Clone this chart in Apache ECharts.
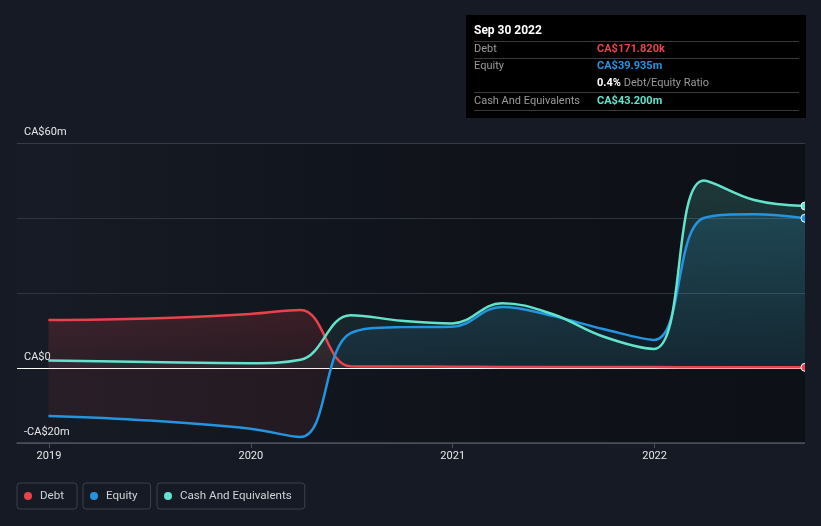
<!DOCTYPE html>
<html>
<head>
<meta charset="utf-8">
<script src="https://cdn.jsdelivr.net/npm/echarts@6/dist/echarts.min.js"></script>
<style>
html,body{margin:0;padding:0;background:#161a24;}
#c{width:821px;height:526px;}
</style>
</head>
<body>
<div id="c"></div>
<script>
// ---- data (values in CA$ millions) ----
const dates = ['2018-12-31','2019-06-30','2019-12-31','2020-03-31','2020-06-30','2020-09-30','2020-12-31','2021-03-31','2021-06-30','2021-09-30','2021-12-31','2022-03-31','2022-06-30','2022-09-30'];
const debt   = [12.8, 13.2, 14.4, 15.5, 0.45, 0.4, 0.35, 0.3, 0.3, 0.25, 0.25, 0.2, 0.2, 0.17182];
const equity = [-12.8, -14.0, -16.2, -18.4, 9.3, 10.9, 11.0, 16.3, 13.9, 10.4, 7.5, 40.0, 41.0, 39.935];
const cash   = [2.0, 1.6, 1.3, 2.2, 14.1, 12.6, 11.9, 17.3, 14.4, 8.4, 5.1, 50.0, 44.8, 43.2];
const xTickYears = [2019, 2020, 2021, 2022];
const yTickLabels = {'60': 'CA$60m', '0': 'CA$0', '-20': '-CA$20m'};
const seriesNames = ['Debt', 'Equity', 'Cash And Equivalents'];
const tooltipDate = 'Sep 30 2022';

const COLORS = {debt: '#e8434a', equity: '#2394e0', cash: '#62e3cc'};

function toYear(s) {
  const [y, m, d] = s.split('-').map(Number);
  const t = Date.UTC(y, m - 1, d), a = Date.UTC(y, 0, 1), b = Date.UTC(y + 1, 0, 1);
  return y + (t - a) / (b - a);
}
const xs = dates.map(toYear);
function build(vals, color) {
  const n = vals.length;
  return vals.map((v, i) => i === n - 1
    ? {value: [xs[i], v], symbol: 'circle', symbolSize: 8, itemStyle: {color: color, borderColor: '#ffffff', borderWidth: 1}}
    : {value: [xs[i], v]});
}
function fmtMoney(m) {
  if (Math.abs(m) < 1) return 'CA$' + (m * 1000).toFixed(3) + 'k';
  return 'CA$' + m.toFixed(3) + 'm';
}
const last = dates.length - 1;
const ratio = (debt[last] / equity[last] * 100).toFixed(1) + '%';

const G = echarts.graphic.LinearGradient;
const GT = 143, GB = 443; // grid top/bottom in px
const zeroOff = (368 - GT) / (GB - GT);

const chart = echarts.init(document.getElementById('c'), null, {renderer: 'canvas'});
const font = 'Roboto';

function legendFor(name, left) {
  return {
    data: [name], left: left, top: 483, orient: 'horizontal',
    icon: 'circle', itemWidth: 14, itemHeight: 8,
    padding: [7, 13, 7, 7],
    borderColor: '#3a3f49', borderWidth: 1, borderRadius: 3,
    textStyle: {color: '#cfd2d6', fontSize: 11.6, fontFamily: font},
    selectedMode: false
  };
}

const tipX = 466, tipY = 15;
const rowLine = (y) => ({type: 'line', shape: {x1: 474, y1: y, x2: 799, y2: y}, style: {stroke: '#3a3a3a', lineWidth: 1}, silent: true, z: 101});
const txt = (x, y, text, fill, weight, size) => ({type: 'text', x: x, y: y, style: {text: text, fill: fill, fontSize: size || 11, fontFamily: font, fontWeight: weight || 'normal', verticalAlign: 'middle'}, silent: true, z: 102});

const SMOOTH = 0.4;

const option = {
  backgroundColor: '#161a24',
  animation: false,
  textStyle: {fontFamily: font},
  grid: {
    left: 17, right: 16, top: GT, bottom: 526 - GB,
    show: true, borderWidth: 0,
    backgroundColor: new G(0, 0, 1, 0, [
      {offset: 0, color: '#171b25'},
      {offset: 0.35, color: '#12161e'},
      {offset: 0.6, color: '#0f1219'},
      {offset: 1, color: '#0d1016'}
    ])
  },
  legend: [
    legendFor(seriesNames[0], 17),
    legendFor(seriesNames[1], 83),
    legendFor(seriesNames[2], 157)
  ],
  xAxis: {
    type: 'value',
    min: 2019 - 32 / 202,
    max: xs[last],
    axisLine: {onZero: false, lineStyle: {color: '#4a4f58', width: 1.5}},
    axisTick: {show: true, length: 5, lineStyle: {color: '#4a4f58'}, customValues: xTickYears},
    axisLabel: {color: '#e8e8e8', fontSize: 11, fontFamily: font, margin: 8, customValues: xTickYears, formatter: v => String(v)},
    splitLine: {show: false}
  },
  yAxis: {
    type: 'value',
    min: -20, max: 60, interval: 20,
    axisLine: {show: false},
    axisTick: {show: false},
    axisLabel: {
      inside: true, margin: 7, color: '#e8e8e8', fontSize: 11, fontFamily: font,
      verticalAlign: 'bottom', padding: [0, 0, 5, 0],
      formatter: v => yTickLabels[String(v)] || ''
    },
    splitLine: {show: true, lineStyle: {color: ['#4a4f58', '#ffffff', '#2f343d', '#2f343d', '#363b44'], width: 1}}
  },
  series: [
    {
      name: seriesNames[0], type: 'line', data: build(debt, COLORS.debt),
      smooth: SMOOTH, symbol: 'none', showSymbol: true,
      lineStyle: {color: COLORS.debt, width: 2.5},
      itemStyle: {color: COLORS.debt},
      areaStyle: {color: new G(0, GT, 0, GB, [
        {offset: 0, color: 'rgba(232,67,74,0.32)'},
        {offset: 0.55, color: 'rgba(232,67,74,0.28)'},
        {offset: zeroOff, color: 'rgba(232,67,74,0.14)'},
        {offset: 1, color: 'rgba(232,67,74,0.14)'}
      ], true)}
    },
    {
      name: seriesNames[1], type: 'line', data: build(equity, COLORS.equity),
      smooth: SMOOTH, symbol: 'none', showSymbol: true,
      lineStyle: {color: COLORS.equity, width: 2.5},
      itemStyle: {color: COLORS.equity},
      areaStyle: {color: new G(0, GT, 0, GB, [
        {offset: 0, color: 'rgba(35,148,224,0.32)'},
        {offset: zeroOff, color: 'rgba(35,148,224,0.12)'},
        {offset: zeroOff, color: 'rgba(232,67,74,0.12)'},
        {offset: 1, color: 'rgba(232,67,74,0.12)'}
      ], true)}
    },
    {
      name: seriesNames[2], type: 'line', data: build(cash, COLORS.cash),
      smooth: SMOOTH, symbol: 'none', showSymbol: true,
      lineStyle: {color: COLORS.cash, width: 2.5},
      itemStyle: {color: COLORS.cash},
      areaStyle: {color: new G(0, GT, 0, GB, [
        {offset: 0, color: 'rgba(98,227,204,0.30)'},
        {offset: zeroOff, color: 'rgba(98,227,204,0.08)'},
        {offset: 1, color: 'rgba(98,227,204,0.08)'}
      ], true)}
    }
  ],
  graphic: [
    {type: 'rect', shape: {x: 805, y: 135, width: 16, height: 315}, style: {fill: '#161a24'}, silent: true, z: 100},
    {type: 'rect', shape: {x: tipX, y: tipY, width: 340, height: 103}, style: {fill: '#000000'}, silent: true, z: 100},
    txt(474, 30.5, tooltipDate, '#ffffff', 'bold', 12),
    rowLine(41.5), rowLine(58.5), rowLine(92.5), rowLine(110.5),
    txt(474, 49, seriesNames[0], '#9a9a9a'),
    txt(597, 49, fmtMoney(debt[last]), COLORS.debt, 'bold'),
    txt(474, 66, seriesNames[1], '#9a9a9a'),
    txt(597, 66, fmtMoney(equity[last]), COLORS.equity, 'bold'),
    {type: 'text', x: 597, y: 83, silent: true, z: 102, style: {
      text: '{b|' + ratio + '} {g|Debt/Equity Ratio}', verticalAlign: 'middle', fontFamily: font, fontSize: 11,
      rich: {b: {fill: '#ffffff', fontWeight: 'bold', fontSize: 11, fontFamily: font}, g: {fill: '#9a9a9a', fontSize: 11, fontFamily: font}}
    }},
    txt(474, 101, seriesNames[2], '#9a9a9a'),
    txt(597, 101, fmtMoney(cash[last]), COLORS.cash, 'bold')
  ]
};
chart.setOption(option);
</script>
</body>
</html>
